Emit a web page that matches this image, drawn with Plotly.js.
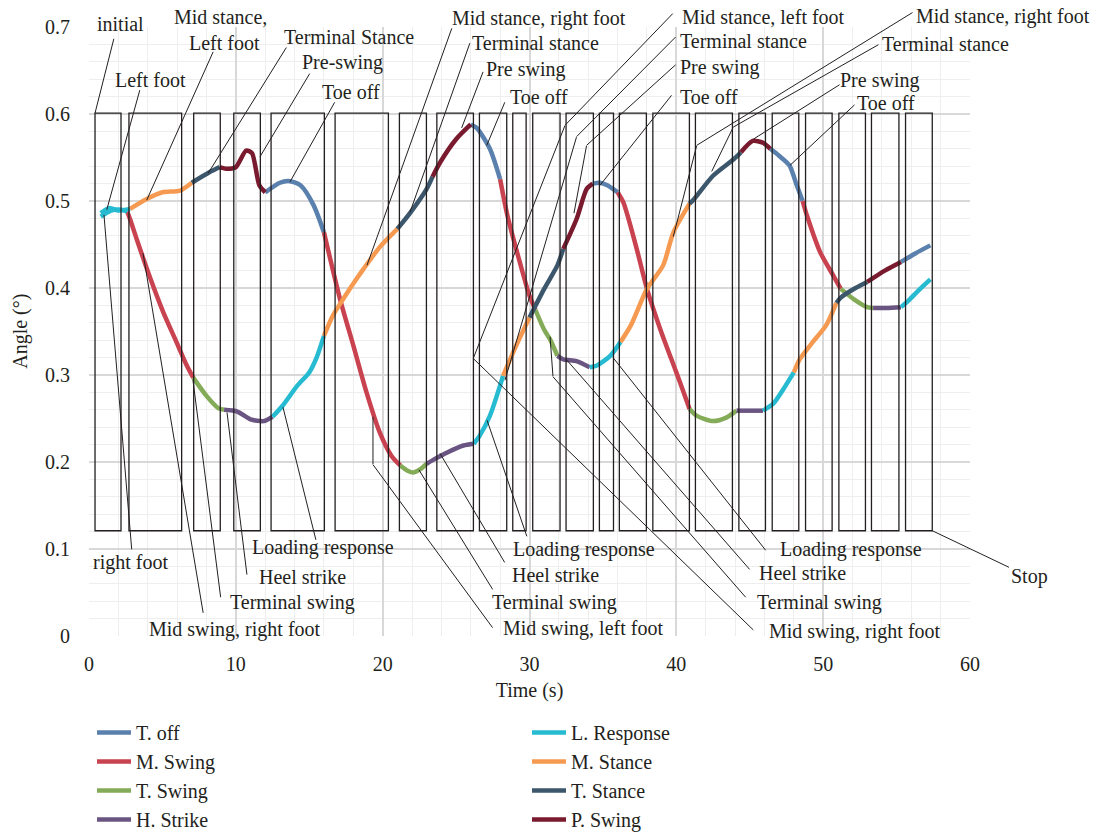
<!DOCTYPE html>
<html>
<head>
<meta charset="utf-8">
<script src="https://cdn.plot.ly/plotly-3.0.1.min.js"></script>
<style>html,body{margin:0;padding:0;background:#fff}#chart{width:1103px;height:833px}</style>
</head>
<body>
<div id="chart"></div>
<script>
// ---------- DATA ----------
// gait phases (legend names)
const phaseNames = {TO:'T. off', MSw:'M. Swing', TSw:'T. Swing', HS:'H. Strike',
                    LR:'L. Response', MSt:'M. Stance', TSt:'T. Stance', PS:'P. Swing'};
const legendLeft  = ['TO','MSw','TSw','HS'];
const legendRight = ['LR','MSt','TSt','PS'];

// Curve A (phase = phase of the segment ending at that point)
const timeA  = [0.8,1.4,2.0,2.8, 3.9,5.0,6.2,7.0, 8.2,8.9, 9.4,10.0,10.7,11.1,11.6,12.0,
                13.0,13.6,14.4,15.3,16.0, 17.1,18.0,18.9,19.8,20.6,21.2, 21.7,22.1,22.6,23.0,
                23.5,24.4,25.5,26.2, 26.6,27.3,28.2, 29.1,30.0, 31.0,31.9,32.3, 33.2,33.9,34.3,
                34.8,35.3,36.0, 36.4,37.3,38.0,38.9,40.0,40.5,40.9, 41.4,42.5,43.4,44.1,
                45.0,45.9, 46.6,47.3,48.0, 48.4,49.3,50.2,50.9, 51.2,52.2,53.0, 54.2,55.3, 56.3,57.3];
const angleA = [0.486,0.492,0.489,0.491, 0.502,0.510,0.512,0.521, 0.533,0.539, 0.537,0.539,0.558,0.555,0.518,0.510,
                0.521,0.523,0.518,0.495,0.464, 0.387,0.334,0.280,0.234,0.207,0.196, 0.190,0.188,0.192,0.198,
                0.203,0.211,0.219,0.221, 0.230,0.253,0.299, 0.334,0.366, 0.399,0.426,0.445, 0.479,0.514,0.520,
                0.521,0.518,0.510, 0.498,0.445,0.399,0.353,0.303,0.280,0.261, 0.253,0.247,0.251,0.259,
                0.259,0.259, 0.267,0.284,0.303, 0.318,0.338,0.357,0.383, 0.389,0.400,0.407, 0.420,0.430, 0.440,0.449];
const phaseA = ['LR','LR','LR','LR', 'MSt','MSt','MSt','MSt', 'TSt','TSt', 'PS','PS','PS','PS','PS','PS',
                'TO','TO','TO','TO','TO', 'MSw','MSw','MSw','MSw','MSw','MSw', 'TSw','TSw','TSw','TSw',
                'HS','HS','HS','HS', 'LR','LR','LR', 'MSt','MSt', 'TSt','TSt','TSt', 'PS','PS','PS',
                'TO','TO','TO', 'MSw','MSw','MSw','MSw','MSw','MSw','MSw', 'TSw','TSw','TSw','TSw',
                'HS','HS', 'LR','LR','LR', 'MSt','MSt','MSt','MSt', 'TSt','TSt','TSt', 'PS','PS', 'TO','TO'];

// Curve B
const timeB  = [0.8,1.5,2.2,2.6, 2.8,3.25,4.2,5.06,5.9,6.66,7.1, 8.0,8.8,9.2, 10.1,11.0,11.9,12.5,
                13.2,14.2,15.0,15.5,16.0, 16.6,17.3,18.2,18.7,19.8,21.0, 21.9,23.0,23.4, 23.9,25.0,26.0,
                26.4,27.3,28.0, 28.5,29.4,30.0,30.4, 31.0,31.4,31.9, 32.3,33.2,34.1, 34.6,35.5,36.2,
                36.9,38.0,39.1,39.8,40.9, 41.2,42.5,43.9,44.4, 45.2,45.9,46.4, 47.0,47.7,48.2,48.6,
                48.9,49.8,50.7,51.2, 52.1,53.0,53.4, 54.3,55.3, 55.9,56.6,57.3];
const angleB = [0.482,0.489,0.490,0.488, 0.479,0.456,0.410,0.372,0.340,0.311,0.297, 0.276,0.262,0.260, 0.258,0.249,0.247,0.252,
                0.265,0.288,0.303,0.320,0.345, 0.368,0.387,0.410,0.422,0.447,0.468, 0.487,0.514,0.528, 0.544,0.571,0.588,
                0.584,0.560,0.525, 0.483,0.426,0.391,0.375, 0.352,0.341,0.322, 0.318,0.316,0.309, 0.311,0.322,0.338,
                0.357,0.399,0.426,0.464,0.497, 0.502,0.529,0.548,0.556, 0.569,0.567,0.560, 0.552,0.541,0.518,0.500,
                0.483,0.441,0.414,0.399, 0.387,0.378,0.377, 0.377,0.378, 0.387,0.399,0.410];
const phaseB = ['LR','LR','LR','LR', 'MSw','MSw','MSw','MSw','MSw','MSw','MSw', 'TSw','TSw','TSw', 'HS','HS','HS','HS',
                'LR','LR','LR','LR','LR', 'MSt','MSt','MSt','MSt','MSt','MSt', 'TSt','TSt','TSt', 'PS','PS','PS',
                'TO','TO','TO', 'MSw','MSw','MSw','MSw', 'TSw','TSw','TSw', 'HS','HS','HS', 'LR','LR','LR',
                'MSt','MSt','MSt','MSt','MSt', 'TSt','TSt','TSt','TSt', 'PS','PS','PS', 'TO','TO','TO','TO',
                'MSw','MSw','MSw','MSw', 'TSw','TSw','TSw', 'HS','HS', 'LR','LR','LR'];

// phase windows (boxes)
const boxStart = [0.41,2.72,7.13,9.86,12.40,16.76,21.14,23.69,26.59,28.86,30.22,32.49,34.76,36.12,38.40,41.30,44.26,46.53,48.80,51.07,53.29,55.61];
const boxEnd   = [2.18,6.31,8.94,11.67,16.03,20.39,22.98,26.18,28.45,29.77,32.08,34.35,35.72,37.96,40.89,43.82,46.07,48.34,50.61,52.88,55.16,57.43];
const boxBottom = 0.121;
const boxTop = 0.601;

// ---------- ANNOTATION LAYOUT (label positions, leader lines) ----------
const labels = [
  ['initial',0.41,0.688,'bottom'], ['Left foot',1.63,0.639,'middle'],
  ['Mid stance,',5.65,0.697,'bottom'], ['Left foot',6.67,0.682,'middle'],
  ['Terminal Stance',13.14,0.689,'middle'], ['Pre-swing',14.37,0.659,'middle'], ['Toe off',15.73,0.625,'middle'],
  ['Mid stance, right foot',24.59,0.694,'bottom'], ['Terminal stance',25.95,0.682,'middle'],
  ['Pre swing',26.90,0.651,'middle'], ['Toe off',28.54,0.620,'middle'],
  ['Mid stance, left foot',40.25,0.697,'bottom'], ['Terminal stance',40.11,0.684,'middle'],
  ['Pre swing',40.11,0.654,'middle'], ['Toe off',40.11,0.620,'middle'],
  ['Mid stance, right foot',56.19,0.697,'bottom'], ['Terminal stance',53.87,0.680,'middle'],
  ['Pre swing',51.01,0.639,'middle'], ['Toe off',52.17,0.613,'middle'],
  ['Loading response',10.96,0.102,'middle'], ['Heel strike',11.44,0.068,'middle'],
  ['Terminal swing',9.47,0.038,'middle'], ['Mid swing, right foot',3.95,0.007,'middle'],
  ['Loading response',28.74,0.099,'middle'], ['Heel strike',28.67,0.070,'middle'],
  ['Terminal swing',27.31,0.038,'middle'], ['Mid swing, left foot',28.06,0.009,'middle'],
  ['Loading response',46.92,0.100,'middle'], ['Heel strike',45.49,0.072,'middle'],
  ['Terminal swing',45.36,0.039,'middle'], ['Mid swing, right foot',46.18,0.005,'middle']
];
const leaders = [
  [1.70,0.687, 0.41,0.601], [3.47,0.628, 1.21,0.490], [8.47,0.672, 3.93,0.501],
  [13.46,0.677, 8.12,0.532], [15.05,0.647, 11.65,0.551], [16.75,0.614, 13.69,0.522],
  [24.72,0.699, 18.93,0.426], [25.95,0.682, 21.86,0.487], [26.85,0.649, 25.38,0.584], [28.33,0.614, 27.09,0.564],
  [39.79,0.716, 32.42,0.587, 26.17,0.319, 45.24,0.007],
  [39.98,0.689, 33.21,0.574, 28.33,0.294],
  [39.98,0.657, 33.89,0.564, 33.03,0.486],
  [39.70,0.622, 34.80,0.518],
  [56.12,0.717, 41.39,0.564, 39.79,0.459],
  [53.80,0.680, 43.88,0.585, 42.41,0.534],
  [51.15,0.634, 45.24,0.571], [52.17,0.611, 47.74,0.541],
  [2.91,0.099, 1.02,0.484], [7.78,0.026, 3.68,0.440], [8.97,0.044, 7.08,0.294],
  [10.76,0.070, 9.40,0.257], [15.46,0.110, 13.21,0.263],
  [27.51,0.009, 19.34,0.197, 19.34,0.252], [27.51,0.053, 22.47,0.191],
  [28.33,0.084, 23.90,0.210], [29.83,0.114, 27.11,0.248],
  [46.11,0.098, 35.69,0.320], [45.02,0.076, 32.55,0.317],
  [44.75,0.044, 31.60,0.298, 31.40,0.344]
];

// ---------- STYLE ----------
const colors = {TO:'#5a80ad', MSw:'#c9424f', TSw:'#84ab58', HS:'#6a5482',
                LR:'#27bbd2', MSt:'#f59a50', TSt:'#3c566b', PS:'#7a1a2e'};
const FONT = 'Liberation Serif, Times New Roman, serif';
const TXT = '#231f20';
const X0 = 0, X1 = 60, Y0 = 0, Y1 = 0.7;

// ---------- BUILD TRACES ----------
const segX = {}, segY = {};
Object.keys(phaseNames).forEach(k => { segX[k] = []; segY[k] = []; });
function addCurve(t, a, p) {
  let start = 0;
  for (let i = 1; i < t.length; i++) {
    if (i === t.length - 1 || p[i + 1] !== p[i]) {
      const ph = p[i];
      for (let j = start; j <= i; j++) { segX[ph].push(t[j]); segY[ph].push(a[j]); }
      segX[ph].push(null); segY[ph].push(null);
      start = i;
    }
  }
}
addCurve(timeA, angleA, phaseA);
addCurve(timeB, angleB, phaseB);

const traces = [];
legendLeft.concat(legendRight).forEach(k => {
  traces.push({
    type:'scatter', mode:'lines', name:phaseNames[k],
    x:segX[k], y:segY[k], connectgaps:false,
    line:{color:colors[k], width:4.5, shape:'spline', smoothing:0.7},
    legend: legendLeft.includes(k) ? 'legend' : 'legend2',
    hoverinfo:'skip'
  });
});

// ---------- SHAPES ----------
const shapes = boxStart.map((s, i) => ({
  type:'rect', xref:'x', yref:'y', x0:s, x1:boxEnd[i], y0:boxBottom, y1:boxTop,
  line:{color:'#231f20', width:1.3}, fillcolor:'rgba(0,0,0,0)', layer:'above'
}));

// ---------- ANNOTATIONS ----------
const inside = (x, y) => x >= X0 && x <= X1 && y >= Y0 && y <= Y1;
const annotations = [];
labels.forEach(l => {
  annotations.push({x:l[1], y:l[2], xref:'x', yref:'y', text:l[0], showarrow:false,
    xanchor:'left', yanchor:l[3], font:{family:FONT, size:20, color:TXT}});
});
// "right foot" anchored at its right edge
annotations.push({x:5.52, y:0.085, xref:'x', yref:'y', text:'right foot', showarrow:false,
  xanchor:'right', yanchor:'middle', font:{family:FONT, size:20, color:TXT}});
leaders.forEach(pl => {
  for (let i = 0; i + 3 < pl.length; i += 2) {
    let p = [pl[i], pl[i+1]], q = [pl[i+2], pl[i+3]];
    let head = q, tail = p;
    if (!inside(q[0], q[1])) { head = p; tail = q; }
    annotations.push({x:head[0], y:head[1], xref:'x', yref:'y', ax:tail[0], ay:tail[1], axref:'x', ayref:'y',
      text:'', showarrow:true, arrowhead:0, arrowwidth:1, arrowcolor:TXT, standoff:0, startstandoff:0, borderpad:0});
  }
});
// "Stop" label with its leader to the last box corner
annotations.push({x:boxEnd[boxEnd.length-1], y:boxBottom, xref:'x', yref:'y', ax:64.02, ay:0.068, axref:'x', ayref:'y',
  text:'Stop', showarrow:true, arrowhead:0, arrowwidth:1, arrowcolor:TXT, standoff:0, borderpad:1,
  font:{family:FONT, size:20, color:TXT}});
// y-axis title (placed as a rotated annotation left of the tick labels)
annotations.push({x:-0.078, y:0.5, xref:'paper', yref:'paper', text:'Angle (°)', textangle:-90,
  showarrow:false, xanchor:'center', yanchor:'middle', font:{family:FONT, size:20, color:TXT}});

// ---------- LAYOUT ----------
const legendBase = {xref:'container', yref:'container', xanchor:'left', yanchor:'top',
  bgcolor:'rgba(0,0,0,0)', borderwidth:0, font:{family:FONT, size:20, color:TXT}, itemwidth:34};
const layout = {
  width:1103, height:833,
  margin:{l:89, r:133, t:27, b:197, pad:0, autoexpand:false},
  paper_bgcolor:'#ffffff', plot_bgcolor:'#ffffff',
  font:{family:FONT, size:20, color:TXT},
  showlegend:true,
  xaxis:{range:[X0, X1], tick0:0, dtick:10, showgrid:true, gridcolor:'#d8d8d8', gridwidth:2,
    zeroline:false, showline:false, ticks:'outside', ticklen:10, tickcolor:'rgba(0,0,0,0)',
    minor:{dtick:2, showgrid:true, gridcolor:'#eeeeee', gridwidth:1},
    tickfont:{family:FONT, size:20, color:TXT}, automargin:false, fixedrange:true,
    title:{text:'Time (s)', standoff:8, font:{family:FONT, size:20, color:TXT}}},
  yaxis:{range:[Y0, Y1], tick0:0, dtick:0.1, showgrid:true, gridcolor:'#d8d8d8', gridwidth:2,
    zeroline:false, showline:false, ticks:'outside', ticklen:14, tickcolor:'rgba(0,0,0,0)',
    minor:{dtick:0.02, showgrid:true, gridcolor:'#eeeeee', gridwidth:1},
    tickfont:{family:FONT, size:20, color:TXT}, automargin:false, fixedrange:true},
  legend:Object.assign({}, legendBase, {x:92/1103, y:1 - 713/833}),
  legend2:Object.assign({}, legendBase, {x:527/1103, y:1 - 713/833}),
  shapes:shapes,
  annotations:annotations
};

Plotly.newPlot('chart', traces, layout, {displayModeBar:false, staticPlot:true});
</script>
</body>
</html>
